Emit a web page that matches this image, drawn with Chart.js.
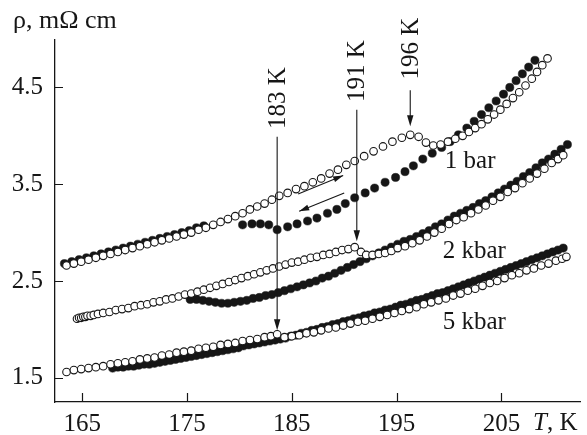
<!DOCTYPE html>
<html>
<head>
<meta charset="utf-8">
<script src="https://cdn.jsdelivr.net/npm/chart.js@4.4.1/dist/chart.umd.min.js"></script>
<style>
  html, body { margin: 0; padding: 0; background: #fff; }
  #wrap { width: 587px; height: 435px; }
</style>
</head>
<body>
<div id="wrap"><canvas id="rhoChart" width="587" height="435"></canvas></div>
<script>
// Resistivity vs temperature at three pressures; open = heating, filled = cooling

const xTickValues = [165, 175, 185, 195, 205];
const yTickValues = [1.5, 2.5, 3.5, 4.5];

// 1 bar
const t1Heat = [163.5,164.2,164.9,165.6,166.3,167.0,167.7,168.4,169.1,169.8,
  170.5,171.2,171.9,172.6,173.3,174.0,174.7,175.4,176.1,176.8,
  177.5,178.2,178.9,179.6,180.3,181.0,181.7,182.4,183.1,183.8,
  184.6,185.4,186.2,187.0,187.8,188.6,189.4,190.2,191.0,
  191.9,192.8,193.7,194.6,195.5,
  196.3,197.1,197.8,198.5,199.2,199.9,200.6,201.3,
  201.9,202.5,203.1,203.7,204.3,204.9,205.5,206.1,206.7,207.3,207.9,
  208.4,208.9,209.4];
const r1Heat = [2.66,2.68,2.70,2.72,2.74,2.76,2.78,2.80,2.82,2.84,
  2.86,2.88,2.90,2.92,2.94,2.96,2.98,3.00,3.03,3.05,
  3.08,3.11,3.14,3.17,3.20,3.24,3.27,3.30,3.34,3.38,
  3.41,3.45,3.48,3.52,3.56,3.61,3.65,3.70,3.74,
  3.79,3.84,3.89,3.94,3.98,
  4.01,3.99,3.93,3.90,3.91,3.94,3.97,4.00,
  4.04,4.08,4.12,4.17,4.22,4.27,4.33,4.39,4.45,4.52,4.59,
  4.66,4.73,4.80];
const t1Cool = [163.3,164.0,164.7,165.4,166.1,166.8,167.5,168.2,168.9,169.6,
  170.3,171.0,171.7,172.4,173.1,173.8,174.5,175.2,175.9,176.6,
  180.3,181.2,182.0,182.8,183.6,184.6,185.5,186.5,187.4,188.4,
  189.3,190.1,191.0,192.0,192.9,193.9,194.9,195.8,196.6,197.5,
  198.4,199.3,200.1,200.9,201.7,202.4,203.1,203.8,204.5,205.2,
  205.8,206.4,207.0,207.6,208.2];
const r1Cool = [2.68,2.70,2.72,2.74,2.76,2.78,2.80,2.82,2.84,2.86,
  2.88,2.90,2.92,2.94,2.96,2.98,3.00,3.02,3.05,3.07,
  3.08,3.09,3.09,3.08,3.03,3.06,3.09,3.12,3.15,3.20,
  3.24,3.30,3.36,3.41,3.46,3.52,3.57,3.63,3.69,3.76,
  3.82,3.88,3.94,4.01,4.08,4.15,4.22,4.29,4.36,4.43,
  4.50,4.57,4.64,4.71,4.78];

// 2 kbar
const t2Heat = [164.5,164.7,164.9,165.1,165.3,165.5,165.8,166.1,166.5,167.0,
  167.6,168.2,168.8,169.4,170.0,170.6,171.2,171.8,172.4,173.0,
  173.6,174.2,174.8,175.4,176.0,176.6,177.2,177.8,178.4,179.0,
  179.6,180.2,180.8,181.4,182.0,182.6,183.2,183.8,184.4,185.0,
  185.6,186.2,186.8,187.4,188.0,188.6,189.2,189.8,190.4,191.0,
  191.6,192.1,192.7,193.3,193.9,194.5,195.1,195.8,196.5,197.2,
  197.9,198.6,199.3,200.0,200.7,201.4,202.1,202.8,203.5,204.2,
  204.9,205.6,206.3,207.0,207.7,208.4,209.1,209.8,210.4,210.9];
const r2Heat = [2.11,2.12,2.12,2.13,2.13,2.14,2.14,2.15,2.16,2.17,
  2.18,2.20,2.21,2.22,2.24,2.25,2.26,2.28,2.29,2.31,
  2.32,2.34,2.36,2.37,2.39,2.41,2.43,2.45,2.47,2.49,
  2.51,2.53,2.55,2.57,2.59,2.61,2.63,2.65,2.67,2.69,
  2.70,2.72,2.74,2.75,2.77,2.78,2.80,2.82,2.83,2.85,
  2.80,2.77,2.77,2.78,2.79,2.81,2.84,2.86,2.89,2.92,
  2.96,3.00,3.04,3.09,3.13,3.16,3.20,3.24,3.28,3.33,
  3.37,3.42,3.46,3.51,3.56,3.61,3.66,3.72,3.76,3.80];
const t2Cool = [175.3,175.9,176.5,177.1,177.7,178.3,178.9,179.5,180.1,180.7,
  181.3,181.9,182.5,183.1,183.7,184.3,184.9,185.5,186.1,186.7,
  187.3,187.9,188.5,189.1,189.7,190.3,190.9,191.5,192.1,192.7,
  193.3,193.9,194.5,195.1,195.7,196.3,196.9,197.5,198.1,198.7,
  199.3,199.9,200.5,201.1,201.7,202.3,202.9,203.5,204.1,204.7,
  205.3,205.9,206.5,207.1,207.7,208.3,208.9,209.5,210.1,210.7,211.3];
const r2Cool = [2.31,2.31,2.30,2.29,2.28,2.27,2.27,2.28,2.29,2.30,
  2.32,2.33,2.35,2.36,2.38,2.40,2.42,2.44,2.46,2.48,
  2.50,2.53,2.55,2.58,2.61,2.64,2.67,2.70,2.73,2.76,
  2.79,2.82,2.85,2.88,2.91,2.93,2.96,2.99,3.02,3.06,
  3.09,3.13,3.17,3.20,3.23,3.26,3.30,3.33,3.37,3.41,
  3.45,3.49,3.53,3.58,3.62,3.67,3.72,3.76,3.81,3.86,3.91];

// 5 kbar
const t5Heat = [163.5,164.2,164.9,165.6,166.3,167.0,167.7,168.4,169.1,169.8,
  170.5,171.2,171.9,172.6,173.3,174.0,174.7,175.4,176.1,176.8,
  177.5,178.2,178.9,179.6,180.3,181.0,181.7,182.4,183.0,183.6,
  184.3,185.0,185.7,186.4,187.1,187.8,188.5,189.2,189.9,190.6,
  191.3,192.0,192.7,193.4,194.1,194.8,195.5,196.2,196.9,197.6,
  198.3,199.0,199.7,200.4,201.1,201.8,202.5,203.2,203.9,204.6,
  205.3,206.0,206.7,207.4,208.1,208.8,209.5,210.2,210.8,211.2];
const r5Heat = [1.56,1.58,1.59,1.60,1.61,1.62,1.64,1.65,1.66,1.67,
  1.69,1.70,1.71,1.73,1.74,1.76,1.77,1.78,1.80,1.81,
  1.82,1.84,1.85,1.86,1.88,1.89,1.90,1.92,1.93,1.95,
  1.92,1.93,1.94,1.96,1.97,1.99,2.01,2.02,2.04,2.06,
  2.08,2.09,2.11,2.13,2.15,2.17,2.19,2.21,2.23,2.26,
  2.28,2.30,2.32,2.35,2.37,2.40,2.42,2.45,2.48,2.50,
  2.53,2.56,2.58,2.61,2.63,2.66,2.68,2.71,2.73,2.75];
const t5Cool = [167.9,168.4,168.9,169.4,169.9,170.4,170.9,171.4,171.9,172.4,
  172.9,173.4,173.9,174.4,174.9,175.4,175.9,176.4,176.9,177.4,
  177.9,178.4,178.9,179.4,179.9,180.4,180.9,181.4,181.9,182.4,
  182.9,183.4,183.9,184.4,184.9,185.4,185.9,186.4,186.9,187.4,
  187.9,188.4,188.9,189.4,189.9,190.4,190.9,191.4,191.9,192.4,
  192.9,193.4,193.9,194.4,194.9,195.4,195.9,196.4,196.9,197.4,
  197.9,198.4,198.9,199.4,199.9,200.4,200.9,201.4,201.9,202.4,
  202.9,203.4,203.9,204.4,204.9,205.4,205.9,206.4,206.9,207.4,
  207.9,208.4,208.9,209.4,209.9,210.4,210.9];
const r5Cool = [1.60,1.61,1.61,1.62,1.62,1.63,1.64,1.64,1.65,1.66,
  1.67,1.68,1.69,1.70,1.71,1.72,1.73,1.74,1.75,1.76,
  1.77,1.78,1.79,1.80,1.81,1.83,1.84,1.85,1.86,1.87,
  1.88,1.89,1.90,1.91,1.93,1.94,1.96,1.97,1.99,2.00,
  2.02,2.03,2.05,2.06,2.08,2.09,2.11,2.12,2.14,2.15,
  2.17,2.18,2.20,2.21,2.23,2.25,2.26,2.28,2.30,2.31,
  2.33,2.35,2.37,2.38,2.40,2.42,2.44,2.46,2.48,2.50,
  2.52,2.54,2.56,2.58,2.60,2.62,2.64,2.66,2.68,2.70,
  2.72,2.74,2.76,2.78,2.80,2.82,2.84];

// transition arrows (temperature, from rho, to rho, where the caption sits)
const transitions = [
  { text: '183 K', t: 183.6, top: 3.99, tip: 1.99, textAt: 4.39 },
  { text: '191 K', t: 191.2, top: 4.27, tip: 2.91, textAt: 4.67 },
  { text: '196 K', t: 196.3, top: 4.47, tip: 4.10, textAt: 4.90 }
];
// heating / cooling direction arrows
const sweeps = [
  { from: [185.6, 3.40], to: [189.9, 3.59] },
  { from: [190.0, 3.41], to: [185.7, 3.22] }
];
const pressureLabels = [
  { text: '1 bar', t: 199.6, r: 3.75 },
  { text: '2 kbar', t: 199.4, r: 2.82 },
  { text: '5 kbar', t: 199.4, r: 2.08 }
];

const ink = '#161616';
const serif = "'Liberation Serif', 'Times New Roman', serif";
const fontPx = 25;

function pts(ts, rs) {
  return ts.map((t, i) => ({ x: t, y: rs[i] }));
}

function openSet(ts, rs) {
  return {
    data: pts(ts, rs),
    pointStyle: 'circle',
    pointRadius: 3.8,
    pointBorderWidth: 1.1,
    pointBackgroundColor: '#fff',
    pointBorderColor: ink,
    showLine: false
  };
}

function filledSet(ts, rs) {
  return {
    data: pts(ts, rs),
    pointStyle: 'circle',
    pointRadius: 4.1,
    pointBorderWidth: 0.5,
    pointBackgroundColor: ink,
    pointBorderColor: ink,
    showLine: false
  };
}

function arrowHead(ctx, x0, y0, x1, y1, len, half) {
  const a = Math.atan2(y1 - y0, x1 - x0);
  ctx.beginPath();
  ctx.moveTo(x1, y1);
  ctx.lineTo(x1 - len * Math.cos(a) + half * Math.sin(a), y1 - len * Math.sin(a) - half * Math.cos(a));
  ctx.lineTo(x1 - len * Math.cos(a) - half * Math.sin(a), y1 - len * Math.sin(a) + half * Math.cos(a));
  ctx.closePath();
  ctx.fill();
}

const decor = {
  id: 'decor',
  afterDraw(chart) {
    const { ctx, chartArea: a, scales: { x, y } } = chart;
    ctx.save();
    ctx.strokeStyle = ink;
    ctx.fillStyle = ink;

    // inward tick marks
    ctx.lineWidth = 1.2;
    ctx.beginPath();
    xTickValues.forEach(v => {
      const px = Math.round(x.getPixelForValue(v)) + 0.5;
      ctx.moveTo(px, a.bottom);
      ctx.lineTo(px, a.bottom - 9);
    });
    yTickValues.forEach(v => {
      const py = Math.round(y.getPixelForValue(v)) + 0.5;
      ctx.moveTo(a.left, py);
      ctx.lineTo(a.left + 8, py);
    });
    ctx.stroke();

    // transition markers
    ctx.lineWidth = 1.1;
    transitions.forEach(m => {
      const px = x.getPixelForValue(m.t);
      const y0 = y.getPixelForValue(m.top);
      const y1 = y.getPixelForValue(m.tip);
      ctx.beginPath();
      ctx.moveTo(px, y0);
      ctx.lineTo(px, y1 - 8);
      ctx.stroke();
      arrowHead(ctx, px, y0, px, y1, 11, 3.2);
      ctx.save();
      ctx.translate(px, y.getPixelForValue(m.textAt));
      ctx.rotate(-Math.PI / 2);
      ctx.font = fontPx + 'px ' + serif;
      ctx.textAlign = 'center';
      ctx.textBaseline = 'middle';
      ctx.fillText(m.text, 0, 1);
      ctx.restore();
    });

    sweeps.forEach(s => {
      const x0 = x.getPixelForValue(s.from[0]), y0 = y.getPixelForValue(s.from[1]);
      const x1 = x.getPixelForValue(s.to[0]), y1 = y.getPixelForValue(s.to[1]);
      ctx.beginPath();
      ctx.moveTo(x0, y0);
      ctx.lineTo(x1, y1);
      ctx.stroke();
      arrowHead(ctx, x0, y0, x1, y1, 10, 3);
    });

    // pressure captions
    ctx.font = fontPx + 'px ' + serif;
    ctx.textAlign = 'left';
    ctx.textBaseline = 'middle';
    pressureLabels.forEach(l => {
      ctx.fillText(l.text, x.getPixelForValue(l.t), y.getPixelForValue(l.r) + 1);
    });

    // axis titles
    ctx.textBaseline = 'alphabetic';
    ctx.font = (fontPx + 1) + 'px ' + serif;
    ctx.fillText('\u03C1, m\u03A9 cm', a.left - 42, a.top - 12);
    ctx.font = 'italic ' + fontPx + 'px ' + serif;
    const tx = a.right - 47;
    const ty = a.bottom + 28;
    ctx.fillText('T', tx, ty);
    const tw = ctx.measureText('T').width;
    ctx.font = fontPx + 'px ' + serif;
    ctx.fillText(', K', tx + tw, ty);
    ctx.restore();
  }
};

new Chart(document.getElementById('rhoChart'), {
  type: 'scatter',
  data: {
    datasets: [
      openSet(t1Heat, r1Heat),
      openSet(t2Heat, r2Heat),
      openSet(t5Heat, r5Heat),
      filledSet(t1Cool, r1Cool),
      filledSet(t2Cool, r2Cool),
      filledSet(t5Cool, r5Cool)
    ]
  },
  options: {
    responsive: false,
    animation: false,
    devicePixelRatio: 1,
    layout: { padding: { left: 0, top: 40, right: 7, bottom: 0 } },
    plugins: { legend: { display: false }, tooltip: { enabled: false } },
    scales: {
      x: {
        type: 'linear',
        min: 162.4,
        max: 212.5,
        grid: { display: false, drawTicks: false },
        border: { display: true, color: ink, width: 1.3 },
        afterBuildTicks: s => { s.ticks = xTickValues.map(v => ({ value: v })); },
        afterFit: s => { s.height = 33; },
        ticks: {
          autoSkip: false,
          maxRotation: 0,
          padding: 7,
          color: ink,
          font: { family: serif, size: fontPx },
          callback: v => String(v)
        }
      },
      y: {
        type: 'linear',
        min: 1.25,
        max: 4.99,
        grid: { display: false, drawTicks: false },
        border: { display: true, color: ink, width: 1.3 },
        afterBuildTicks: s => { s.ticks = yTickValues.map(v => ({ value: v })); },
        afterFit: s => { s.width = 55; },
        ticks: {
          padding: 12,
          color: ink,
          font: { family: serif, size: fontPx },
          callback: v => v.toFixed(1)
        }
      }
    }
  },
  plugins: [decor]
});
</script>
</body>
</html>
